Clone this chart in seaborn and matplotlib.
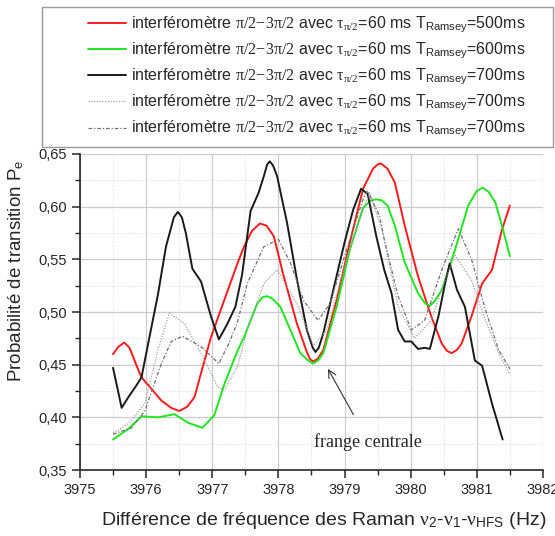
import matplotlib
matplotlib.use("Agg")
import matplotlib.pyplot as plt
from matplotlib.patches import Rectangle
from matplotlib.ticker import FuncFormatter, MultipleLocator
import seaborn as sns

# ── données ──
red_x = [3975.5, 3975.58, 3975.67, 3975.75, 3975.85, 3975.93, 3976.23, 3976.38, 3976.5, 3976.62,
         3976.73, 3976.98, 3977.18, 3977.38, 3977.48, 3977.6, 3977.72, 3977.82, 3977.93, 3978.08,
         3978.28, 3978.43, 3978.48, 3978.53, 3978.6, 3978.68, 3978.88, 3979.08, 3979.28, 3979.43,
         3979.5, 3979.55, 3979.65, 3979.76, 3979.91, 3980.11, 3980.31, 3980.47, 3980.55, 3980.62,
         3980.7, 3980.77, 3980.92, 3981.08, 3981.23, 3981.38, 3981.5]
red_y = [0.460, 0.467, 0.471, 0.466, 0.450, 0.438, 0.416, 0.409, 0.406, 0.410,
         0.419, 0.476, 0.511, 0.546, 0.562, 0.577, 0.584, 0.582, 0.572, 0.534,
         0.489, 0.462, 0.455, 0.453, 0.456, 0.464, 0.511, 0.566, 0.617, 0.636,
         0.640, 0.641, 0.636, 0.623, 0.582, 0.534, 0.496, 0.470, 0.463, 0.461,
         0.464, 0.470, 0.496, 0.527, 0.540, 0.578, 0.601]

green_x = [3975.5, 3975.73, 3975.93, 3976.18, 3976.43, 3976.63, 3976.85, 3977.03, 3977.18, 3977.38,
           3977.48, 3977.68, 3977.76, 3977.83, 3977.9, 3978.03, 3978.18, 3978.33, 3978.45, 3978.52,
           3978.6, 3978.68, 3978.88, 3979.08, 3979.28, 3979.4, 3979.48, 3979.56, 3979.65, 3979.76,
           3979.91, 3980.11, 3980.22, 3980.29, 3980.36, 3980.47, 3980.67, 3980.87, 3981.0, 3981.09,
           3981.18, 3981.28, 3981.38, 3981.5]
green_y = [0.379, 0.389, 0.401, 0.400, 0.403, 0.395, 0.390, 0.402, 0.431, 0.463,
           0.476, 0.508, 0.514, 0.515, 0.513, 0.505, 0.483, 0.461, 0.454, 0.451,
           0.454, 0.461, 0.505, 0.559, 0.599, 0.606, 0.607, 0.606, 0.601, 0.582,
           0.547, 0.518, 0.508, 0.506, 0.510, 0.521, 0.559, 0.601, 0.615, 0.618,
           0.614, 0.604, 0.582, 0.553]

black_x = [3975.5, 3975.63, 3975.73, 3975.85, 3975.93, 3976.05, 3976.18, 3976.3, 3976.42, 3976.48,
           3976.54, 3976.6, 3976.7, 3976.83, 3976.98, 3977.1, 3977.23, 3977.35, 3977.45, 3977.58,
           3977.7, 3977.78, 3977.83, 3977.87, 3977.92, 3977.98, 3978.13, 3978.28, 3978.43, 3978.52,
           3978.56, 3978.61, 3978.68, 3978.83, 3979.0, 3979.13, 3979.25, 3979.35, 3979.48, 3979.6,
           3979.71, 3979.81, 3979.91, 3980.01, 3980.11, 3980.21, 3980.29, 3980.42, 3980.52, 3980.59,
           3980.7, 3980.82, 3980.97, 3981.08, 3981.23, 3981.39]
black_y = [0.447, 0.409, 0.419, 0.430, 0.438, 0.476, 0.517, 0.562, 0.590, 0.595,
           0.590, 0.575, 0.541, 0.529, 0.496, 0.474, 0.489, 0.505, 0.535, 0.596,
           0.613, 0.629, 0.640, 0.643, 0.639, 0.629, 0.585, 0.531, 0.483, 0.466,
           0.462, 0.466, 0.480, 0.521, 0.566, 0.597, 0.617, 0.612, 0.572, 0.540,
           0.518, 0.483, 0.472, 0.472, 0.465, 0.466, 0.465, 0.496, 0.527, 0.546,
           0.521, 0.505, 0.454, 0.449, 0.413, 0.379]

dot_x = [3975.5, 3975.73, 3975.98, 3976.18, 3976.35, 3976.58, 3976.83, 3977.08, 3977.18, 3977.38,
         3977.53, 3977.78, 3977.98, 3978.28, 3978.53, 3978.73, 3979.03, 3979.28, 3979.38, 3979.58,
         3979.81, 3980.06, 3980.31, 3980.52, 3980.67, 3980.92, 3981.13, 3981.33, 3981.5]
dot_y = [0.385, 0.394, 0.413, 0.464, 0.499, 0.489, 0.461, 0.429, 0.426, 0.448,
         0.483, 0.527, 0.540, 0.508, 0.468, 0.483, 0.550, 0.597, 0.613, 0.575,
         0.505, 0.475, 0.492, 0.530, 0.554, 0.530, 0.492, 0.461, 0.441]

dash_x = [3975.5, 3975.78, 3975.98, 3976.23, 3976.38, 3976.55, 3976.83, 3977.1, 3977.25, 3977.38,
          3977.53, 3977.78, 3978.0, 3978.18, 3978.38, 3978.6, 3978.78, 3979.03, 3979.28, 3979.35,
          3979.53, 3979.6, 3979.81, 3980.01, 3980.21, 3980.47, 3980.72, 3980.92, 3981.13, 3981.33,
          3981.5]
dash_y = [0.384, 0.390, 0.406, 0.451, 0.472, 0.477, 0.467, 0.451, 0.470, 0.490,
          0.527, 0.562, 0.569, 0.547, 0.511, 0.492, 0.508, 0.559, 0.607, 0.615,
          0.591, 0.569, 0.515, 0.483, 0.492, 0.540, 0.579, 0.550, 0.502, 0.464,
          0.446]

t_ramsey = ["500", "600", "700", "700", "700"]

sns.set_style("ticks")
plt.rcParams["font.family"] = ["Liberation Sans", "DejaVu Sans"]
plt.rcParams["mathtext.fontset"] = "custom"
plt.rcParams["mathtext.rm"] = "Liberation Serif"
plt.rcParams["mathtext.it"] = "Liberation Serif:italic"
plt.rcParams["mathtext.sf"] = "Liberation Sans"


def label(t):
    return (r"interféromètre $\mathrm{\pi/2\!-\!3\pi/2}$ avec $\mathrm{\tau}_{\mathrm{\pi/2}}$=60 ms "
            r"T$_{\mathsf{Ramsey}}$=" + t + "ms")


fig = plt.figure(figsize=(5.55, 5.36), dpi=100)
ax = fig.add_axes([0.1441, 0.1231, 0.8342, 0.5896])

series = [
    (red_x, red_y, dict(color="#ff1a1a", lw=1.4)),
    (green_x, green_y, dict(color="#1ee61e", lw=1.4)),
    (black_x, black_y, dict(color="#1a1a1a", lw=1.4)),
    (dot_x, dot_y, dict(color="#a0a0a0", lw=0.9, linestyle=(0, (1, 1.2)))),
    (dash_x, dash_y, dict(color="#707070", lw=0.9, linestyle=(0, (3, 1.5, 1, 1.5)))),
]
for (xs, ys, style), t in zip(series, t_ramsey):
    sns.lineplot(x=xs, y=ys, ax=ax, sort=False, estimator=None, label=label(t), **style)

ax.set_xlim(3975, 3982)
ax.set_ylim(0.35, 0.65)
ax.xaxis.set_major_locator(MultipleLocator(1))
ax.xaxis.set_minor_locator(MultipleLocator(0.5))
ax.yaxis.set_major_locator(MultipleLocator(0.05))
ax.yaxis.set_minor_locator(MultipleLocator(0.025))
ax.yaxis.set_major_formatter(FuncFormatter(lambda v, p: f"{v:.2f}".replace(".", ",")))
ax.grid(which="major", color="#cccccc", lw=0.9)
ax.grid(which="minor", color="#dddddd", lw=0.7, linestyle=(0, (1, 1.5)))
ax.set_axisbelow(True)
for s in ["top", "right"]:
    ax.spines[s].set_visible(False)
for s in ["left", "bottom"]:
    ax.spines[s].set_linewidth(1.2)
ax.tick_params(which="major", length=6, width=1.1, labelsize=10.5)
ax.tick_params(which="minor", length=3.5, width=1.0)

ax.set_xlabel(r"Différence de fréquence des Raman $\mathrm{\nu}_{\mathsf{2}}$-$\mathrm{\nu}_{\mathsf{1}}$"
              r"-$\mathrm{\nu}_{\mathsf{HFS}}$ (Hz)", fontsize=14)
ax.xaxis.set_label_coords(0.527, -0.128)
ax.set_ylabel(r"Probabilité de transition P$_{\mathsf{e}}$", fontsize=13.5)
ax.yaxis.set_label_coords(-0.117, 0.63)

ax.annotate("frange centrale", xy=(3978.75, 0.446), xytext=(3979.36, 0.377),
            ha="center", va="center", fontsize=13, family="Liberation Serif",
            arrowprops=dict(arrowstyle="->", color="#333333", lw=0.8, shrinkA=12, shrinkB=0,
                            mutation_scale=14))

# cadre de la légende
fig.patches.append(Rectangle((42 / 555, 1 - 147 / 536), 511 / 555, 140 / 536,
                             transform=fig.transFigure, fill=False, edgecolor="#999999", lw=1.0))
ax.legend(loc="upper left", bbox_to_anchor=(88 / 555, 1 - 15 / 536), bbox_transform=fig.transFigure,
          frameon=False, borderpad=0, borderaxespad=0, handlelength=2.4, handletextpad=0.28,
          labelspacing=0.36, fontsize=11.5)

fig.savefig("out.png", dpi=100)
